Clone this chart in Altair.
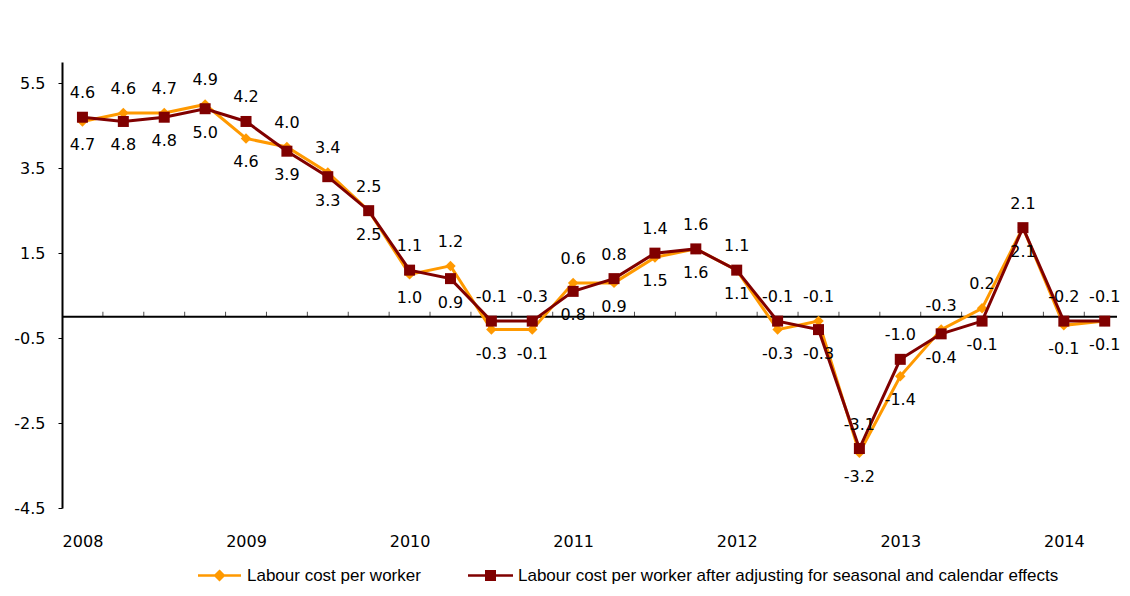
import json
import altair as alt
import pandas as pd

# ---------------- data ----------------
years = ["2008", "2009", "2010", "2011", "2012", "2013", "2014"]
quarter_index = list(range(26))  # 2008Q1 .. 2014Q2

labour_cost = [4.6, 4.8, 4.8, 5.0, 4.2, 4.0, 3.4, 2.5, 1.0, 1.2, -0.3, -0.3, 0.8,
               0.8, 1.4, 1.6, 1.1, -0.3, -0.1, -3.2, -1.4, -0.3, 0.2, 2.1, -0.2, -0.1]
labour_cost_adj = [4.7, 4.6, 4.7, 4.9, 4.6, 3.9, 3.3, 2.5, 1.1, 0.9, -0.1, -0.1, 0.6,
                   0.9, 1.5, 1.6, 1.1, -0.1, -0.3, -3.1, -1.0, -0.4, -0.1, 2.1, -0.1, -0.1]

top_labels = ["4.6", "4.6", "4.7", "4.9", "4.2", "4.0", "3.4", "2.5", "1.1", "1.2", "-0.1",
              "-0.3", "0.6", "0.8", "1.4", "1.6", "1.1", "-0.1", "-0.1", "-3.1", "-1.0",
              "-0.3", "0.2", "2.1", "-0.2", "-0.1"]
bottom_labels = ["4.7", "4.8", "4.8", "5.0", "4.6", "3.9", "3.3", "2.5", "1.0", "0.9", "-0.3",
                 "-0.1", "0.8", "0.9", "1.5", "1.6", "1.1", "-0.3", "-0.3", "-3.2", "-1.4",
                 "-0.4", "-0.1", "2.1", "-0.1", "-0.1"]

series_names = ["Labour cost per worker",
                "Labour cost per worker after adjusting for seasonal and calendar effects"]
y_ticks = [-4.5, -2.5, -0.5, 1.5, 3.5, 5.5]
year_tick_positions = [0, 4, 8, 12, 16, 20, 24]
category_boundaries = [q + 0.5 for q in quarter_index]

# ---------------- styling ----------------
ORANGE = "#FF9900"
RED = "#800000"
NUM_FONT = "DejaVu Sans"
LEG_FONT = "Liberation Sans"

df = pd.DataFrame({
    "q": quarter_index,
    "s1": labour_cost,
    "s2": labour_cost_adj,
    "top": top_labels,
    "bottom": bottom_labels,
})

xs = alt.Scale(domain=[-0.5, 25.3], nice=False, zero=False)
ys = alt.Scale(domain=[-4.5, 6.0], nice=False, zero=False)

x_axis = alt.Axis(
    values=year_tick_positions,
    labelExpr=json.dumps(years) + "[round(datum.value / 4)]",
    domain=False, ticks=False, tickSize=0, grid=False,
    labelFont=NUM_FONT, labelFontSize=16, labelColor="black",
    labelPadding=25, labelAngle=0, title=None,
)
y_axis = alt.Axis(
    values=y_ticks, grid=False,
    labelExpr="replace(format(datum.value, '.1f'), '\u2212', '-')",
    tickSize=4, tickColor="black", tickWidth=1,
    domainColor="black", domainWidth=2,
    labelFont=NUM_FONT, labelFontSize=16, labelColor="black",
    labelPadding=13, title=None,
)

X = alt.X("q:Q", scale=xs, axis=x_axis, title=None)


def Y(field):
    return alt.Y(field, scale=ys, axis=y_axis, title=None)


base = alt.Chart(df)

zero_line = alt.Chart(pd.DataFrame({"z": [0.0]})).mark_rule(
    color="black", strokeWidth=2
).encode(y=Y("z:Q"))

cat_ticks = alt.Chart(pd.DataFrame({"b": category_boundaries, "z": [0.0] * len(category_boundaries)})).mark_tick(
    orient="vertical", size=5, thickness=1, color="black", yOffset=-2.5
).encode(x=alt.X("b:Q", scale=xs, axis=x_axis, title=None), y=Y("z:Q"))

line1 = base.mark_line(color=ORANGE, strokeWidth=3).encode(x=X, y=Y("s1:Q"))
line2 = base.mark_line(color=RED, strokeWidth=3).encode(x=X, y=Y("s2:Q"))


def legend_for(color, path, x):
    return alt.Legend(
        orient="none", legendX=x, legendY=505, title=None, padding=0,
        symbolType=path, symbolSize=100, symbolStrokeWidth=2.5,
        symbolFillColor=color, symbolStrokeColor=color, symbolOpacity=1,
        symbolOffset=14, labelOffset=19, labelLimit=0,
        labelFont=LEG_FONT, labelFontSize=17, labelColor="black",
    )


pts1 = base.transform_calculate(series=json.dumps(series_names[0])).mark_point(
    filled=True, shape="diamond", size=110, opacity=1
).encode(
    x=X, y=Y("s1:Q"),
    color=alt.Color("series:N", scale=alt.Scale(domain=[series_names[0]], range=[ORANGE]),
                    legend=legend_for(ORANGE, "M-4.3,0H4.3M0,-0.85L0.85,0L0,0.85L-0.85,0Z", 135)),
)
pts2 = base.transform_calculate(series=json.dumps(series_names[1])).mark_point(
    filled=True, shape="square", size=121, opacity=1
).encode(
    x=X, y=Y("s2:Q"),
    color=alt.Color("series:N", scale=alt.Scale(domain=[series_names[1]], range=[RED]),
                    legend=legend_for(RED, "M-4.5,0H4.5M-0.85,-0.85H0.85V0.85H-0.85Z", 406)),
)

top_text = base.transform_calculate(hi="max(datum.s1, datum.s2)").mark_text(
    dy=-24, font=NUM_FONT, fontSize=16, color="black", baseline="middle"
).encode(x=X, y=Y("hi:Q"), text="top:N")
bottom_text = base.transform_calculate(lo="min(datum.s1, datum.s2)").mark_text(
    dy=24, font=NUM_FONT, fontSize=16, color="black", baseline="middle"
).encode(x=X, y=Y("lo:Q"), text="bottom:N")

chart = alt.layer(
    zero_line, cat_ticks, line1, pts1, line2, pts2, top_text, bottom_text
).resolve_scale(color="independent").properties(
    width=1055, height=446,
    background="white",
    autosize=alt.AutoSizeParams(type="none"),
    padding={"left": 54, "top": 54, "right": 5, "bottom": 78},
).configure_view(strokeWidth=0, stroke="transparent")

chart.save("out.html", embed_options={"renderer": "svg", "actions": False})
